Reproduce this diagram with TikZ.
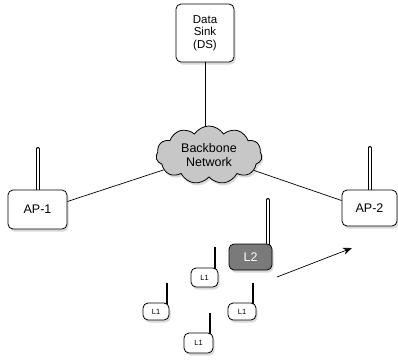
\documentclass[tikz,border=0pt]{standalone}
\usepackage{fontspec}
\setmainfont{Liberation Sans}
\usetikzlibrary{shapes.symbols,shadows,arrows.meta}
\tikzset{
  box/.style={draw=black, fill=white, rounded corners=5pt, line width=0.8pt, inner sep=0pt,
    drop shadow={opacity=0.3, shadow xshift=1.5pt, shadow yshift=-2.5pt}},
  bigtext/.style={font=\fontsize{12.5}{14}\selectfont},
  dstext/.style={font=\fontsize{11.5}{12.5}\selectfont},
  smalltext/.style={font=\fontsize{7.5}{9}\selectfont},
  dblant/.style={draw=black, line width=1pt, double=white, double distance=2pt, line cap=round},
  thinant/.style={draw=black, line width=1.8pt},
  link/.style={draw=black, line width=0.7pt},
}
\begin{document}
\begin{tikzpicture}[x=1pt,y=-1pt]
\useasboundingbox (0,0) rectangle (398,362);
% antennas (behind boxes)
\draw[dblant] (37.5,210) -- (37.5,149);
\draw[dblant] (369.5,208) -- (369.5,148);
\draw[dblant] (267.5,257) -- (267.5,200);
\draw[thinant] (215,277) -- (215,247);
\draw[thinant] (167,311) -- (167,283);
\draw[thinant] (253,311) -- (253,283);
\draw[thinant] (210,343) -- (210,313);
% nodes
\node[box, dstext, minimum width=58pt, minimum height=58pt, align=center] (ds) at (205,33) {Data\\Sink\\(DS)};
\node[cloud, cloud puffs=11, cloud puff arc=115, aspect=1.8, draw=black, fill=black!22, line width=0.8pt,
  minimum width=106pt, minimum height=58pt, inner sep=0pt, bigtext, align=center,
  drop shadow={opacity=0.3, shadow xshift=1.5pt, shadow yshift=-2.5pt}] (cloud) at (209,155) {Backbone\\Network};
\node[box, bigtext, minimum width=59pt, minimum height=39pt] (ap1) at (37.5,209.5) {AP-1};
\node[box, bigtext, minimum width=55pt, minimum height=36pt] (ap2) at (369.5,208) {AP-2};
\node[box, bigtext, fill=black!52, text=white, minimum width=43pt, minimum height=26pt] (l2) at (250.5,257) {L2};
\node[box, smalltext, minimum width=27pt, minimum height=19pt] (l1a) at (204.5,277.5) {L1};
\node[box, smalltext, minimum width=26pt, minimum height=17pt] (l1b) at (156,311.5) {L1};
\node[box, smalltext, minimum width=28pt, minimum height=17pt] (l1c) at (242,311.5) {L1};
\node[box, smalltext, minimum width=29pt, minimum height=20pt] (l1d) at (198.5,343) {L1};
% links
\draw[link] (ds.south) -- (ds.south |- cloud.north);
\draw[link] (ap1.15) -- (cloud);
\draw[link] (ap2.165) -- (cloud);
\coordinate (mvs) at (277,277);
\coordinate (mve) at (352,248);
\draw[link, -{Stealth[length=9pt,width=7pt]}] (mvs) -- (mve);
\end{tikzpicture}
\end{document}
